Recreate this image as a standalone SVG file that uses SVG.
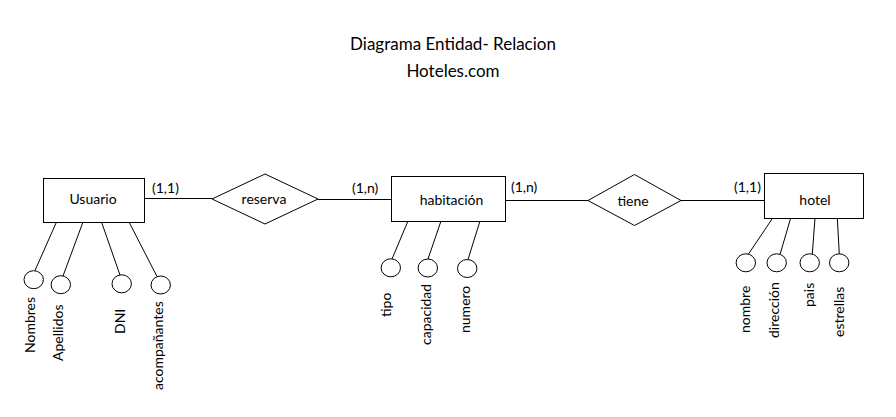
<svg xmlns="http://www.w3.org/2000/svg" width="896" height="417" viewBox="0 0 896 417">
<style>
text{font-family:Lato,"Liberation Sans",sans-serif;font-size:14px;fill:#000}
.t{font-size:17px;text-anchor:middle}
.c{text-anchor:middle}
.box{fill:#fff;stroke:#000;stroke-width:1}
.ln{stroke:#000;stroke-width:1;fill:none}
.at{fill:#fff;stroke:#000;stroke-width:1}
</style>
<rect width="896" height="417" fill="#fff"/>
<text class="t" x="453" y="50">Diagrama Entidad- Relacion</text>
<text class="t" x="453" y="77">Hoteles.com</text>
<g id="connectors">
<line class="ln" x1="144" y1="198.5" x2="212" y2="198.5"/>
<line class="ln" x1="318" y1="199.5" x2="392" y2="199.5"/>
<line class="ln" x1="506" y1="200.5" x2="588" y2="200.5"/>
<line class="ln" x1="681" y1="200.5" x2="765" y2="200.5"/>
<line class="ln" x1="56.5" y1="222" x2="35" y2="270.5"/>
<line class="ln" x1="83" y1="222" x2="63" y2="276"/>
<line class="ln" x1="101.5" y1="222" x2="120" y2="275"/>
<line class="ln" x1="129" y1="222" x2="157" y2="276.5"/>
<line class="ln" x1="408" y1="221" x2="392" y2="259"/>
<line class="ln" x1="441" y1="221" x2="428" y2="259"/>
<line class="ln" x1="480" y1="221" x2="468" y2="259.5"/>
<line class="ln" x1="772.7" y1="218" x2="748.5" y2="254"/>
<line class="ln" x1="790.7" y1="218" x2="780" y2="254.5"/>
<line class="ln" x1="815" y1="218" x2="812.3" y2="254"/>
<line class="ln" x1="837.3" y1="218" x2="839.3" y2="254"/>
<text x="152" y="193">(1,1)</text>
<text x="352" y="193">(1,n)</text>
<text x="511" y="192">(1,n)</text>
<text x="734" y="192">(1,1)</text>
</g>
<g id="usuario">
<rect class="box" x="43.5" y="178.5" width="101" height="44"/>
<text class="c" x="93" y="204">Usuario</text>
</g>
<g id="reserva">
<polygon class="box" points="212,199 265,174 318,199 265,224"/>
<text class="c" x="264" y="204">reserva</text>
</g>
<g id="habitacion">
<rect class="box" x="391.5" y="176.5" width="114" height="45"/>
<text class="c" x="451.5" y="205">habitación</text>
</g>
<g id="tiene">
<polygon class="box" points="588,200.5 634.5,174.5 681,200.5 634.5,225.5"/>
<text class="c" x="633" y="205.5">tiene</text>
</g>
<g id="hotel">
<rect class="box" x="764.5" y="173.5" width="99" height="45"/>
<text class="c" x="815" y="205">hotel</text>
</g>
<g id="attr-nombres"><ellipse class="at" cx="33.7" cy="279.7" rx="9.7" ry="9"/><text transform="translate(35,353) rotate(-90)">Nombres</text></g>
<g id="attr-apellidos"><ellipse class="at" cx="60.8" cy="284.7" rx="9.7" ry="9"/><text transform="translate(63,361) rotate(-90)">Apellidos</text></g>
<g id="attr-dni"><ellipse class="at" cx="121.7" cy="283.8" rx="9.7" ry="9"/><text transform="translate(125,334) rotate(-90)">DNI</text></g>
<g id="attr-acompanantes"><ellipse class="at" cx="160.7" cy="285" rx="9.7" ry="9"/><text transform="translate(163,390) rotate(-90)">acompañantes</text></g>
<g id="attr-tipo"><ellipse class="at" cx="390.8" cy="267.8" rx="9.7" ry="9"/><text transform="translate(391,317) rotate(-90)">tipo</text></g>
<g id="attr-capacidad"><ellipse class="at" cx="427.8" cy="268" rx="9.7" ry="9"/><text transform="translate(431,345) rotate(-90)">capacidad</text></g>
<g id="attr-numero"><ellipse class="at" cx="467.2" cy="268.5" rx="9.7" ry="9"/><text transform="translate(470,333) rotate(-90)">numero</text></g>
<g id="attr-nombre"><ellipse class="at" cx="745.8" cy="262.8" rx="9.7" ry="9"/><text transform="translate(750,333) rotate(-90)">nombre</text></g>
<g id="attr-direccion"><ellipse class="at" cx="776.7" cy="262.8" rx="9.7" ry="9"/><text transform="translate(779,338) rotate(-90)">dirección</text></g>
<g id="attr-pais"><ellipse class="at" cx="809.7" cy="262.8" rx="9.7" ry="9"/><text transform="translate(814,307) rotate(-90)">pais</text></g>
<g id="attr-estrellas"><ellipse class="at" cx="839.2" cy="262.8" rx="9.7" ry="9"/><text transform="translate(844,337) rotate(-90)">estrellas</text></g>
</svg>
